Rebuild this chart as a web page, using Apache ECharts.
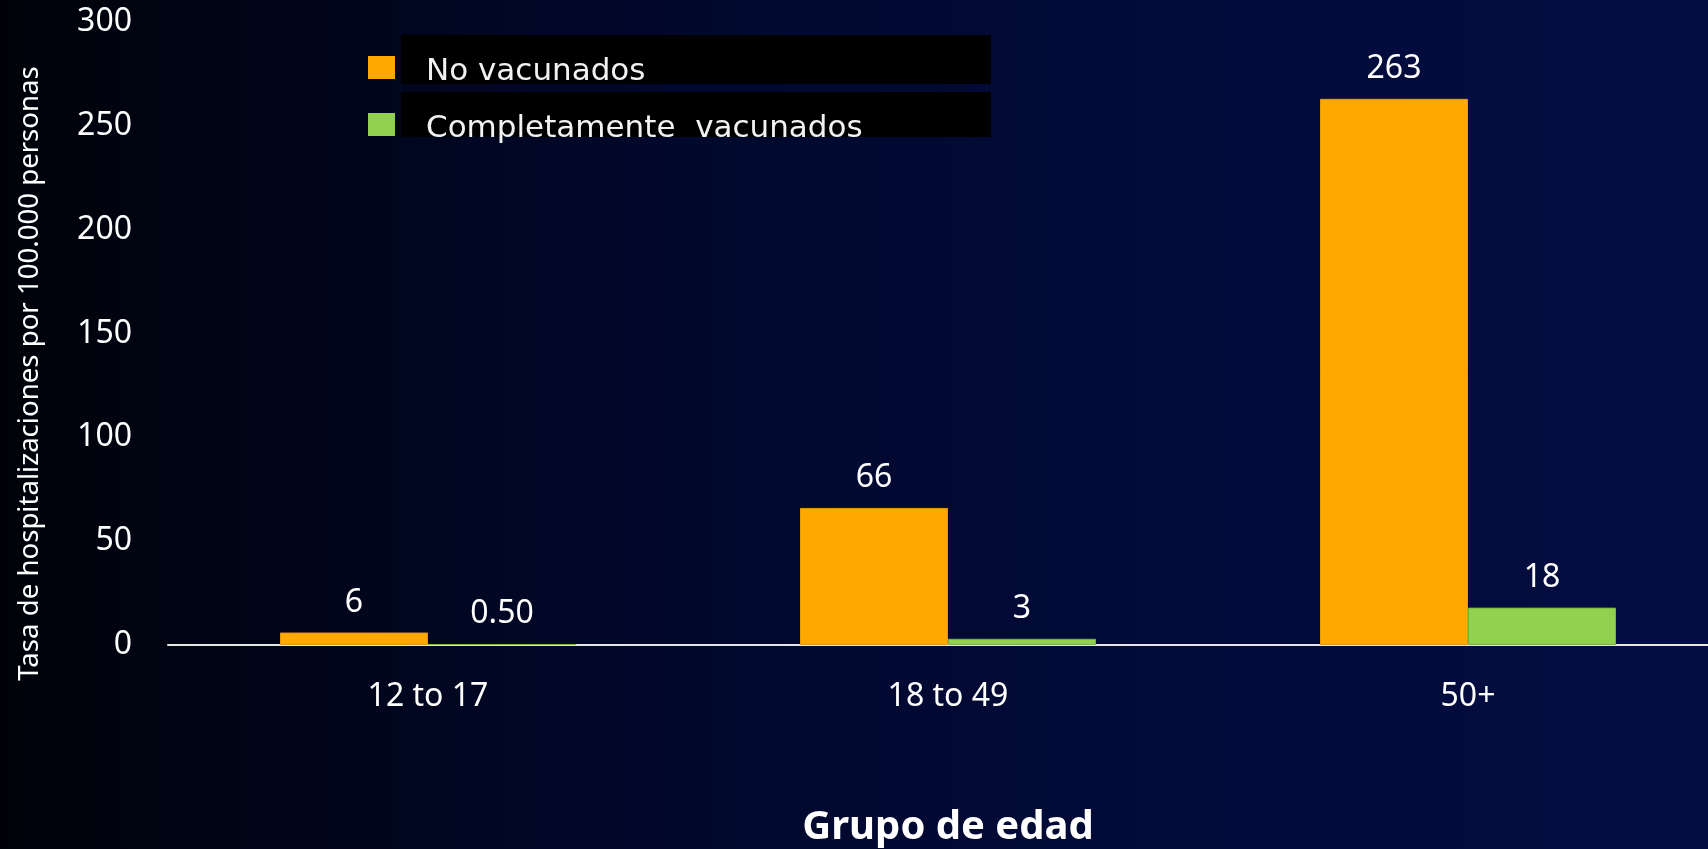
<!DOCTYPE html>
<html>
<head>
<meta charset="utf-8">
<script src="https://cdn.jsdelivr.net/npm/echarts@6/dist/echarts.min.js"></script>
<style>
html,body{margin:0;padding:0;width:1708px;height:849px;overflow:hidden;background:#01030f;}
#c{width:1708px;height:849px;}
</style>
</head>
<body>
<div id="c"></div>
<script>
const categories = ['12 to 17', '18 to 49', '50+'];
const noVacunados = [6, 66, 263];
const completamente = [0.5, 3, 18];
const seriesNames = ['No vacunados', 'Completamente  vacunados'];
const yTicks = { min: 0, max: 300, interval: 50 };

const chart = echarts.init(document.getElementById('c'));
const fmt = p => (p.value < 1 ? p.value.toFixed(2) : String(p.value));
const labelStyle = {
  show: true, position: 'top', distance: 14,
  color: '#ffffff', fontFamily: 'Noto Sans', fontSize: 32, formatter: fmt
};
chart.setOption({
  backgroundColor: {
    type: 'linear', x: 0, y: 0, x2: 1, y2: 0,
    colorStops: [
      { offset: 0, color: '#000209' },
      { offset: 0.15, color: '#000517' },
      { offset: 0.4, color: '#01082d' },
      { offset: 0.7, color: '#020b3a' },
      { offset: 1, color: '#030d42' }
    ]
  },
  graphic: [
    { type: 'rect', z: 0, shape: { x: 401, y: 35, width: 590, height: 49 }, style: { fill: '#000000' } },
    { type: 'rect', z: 0, shape: { x: 401, y: 92, width: 590, height: 45 }, style: { fill: '#000000' } }
  ],
  legend: {
    orient: 'vertical', left: 363, top: 51, z: 10,
    icon: 'path://M0,0L27,0L27,23L0,23Z M0,31L27,31',
    itemWidth: 27, itemHeight: 31, itemGap: 26,
    itemStyle: { borderWidth: 0 },
    textStyle: { color: '#f2f2f2', fontFamily: 'DejaVu Sans', fontSize: 31, padding: [0, 0, 0, 26] },
    data: seriesNames
  },
  grid: { left: 168, top: 22, width: 1560, height: 623, containLabel: false, outerBoundsMode: 'none' },
  xAxis: {
    type: 'category', data: categories,
    axisLine: { show: true, lineStyle: { color: '#e6e6e6', width: 2 } },
    axisTick: { show: false },
    axisLabel: { color: '#ffffff', fontFamily: 'Noto Sans', fontSize: 32, margin: 36 },
    name: 'Grupo de edad', nameLocation: 'middle', nameGap: 163,
    nameTextStyle: { color: '#ffffff', fontFamily: 'Noto Sans', fontWeight: 'bold', fontSize: 40 }
  },
  yAxis: {
    type: 'value', min: yTicks.min, max: yTicks.max, interval: yTicks.interval,
    axisLine: { show: false }, axisTick: { show: false }, splitLine: { show: false },
    axisLabel: { color: '#ffffff', fontFamily: 'Noto Sans', fontSize: 32, margin: 36, padding: [4, 0, 0, 0] },
    name: 'Tasa de hospitalizaciones por 100.000 personas', nameLocation: 'middle', nameGap: 124,
    nameTextStyle: { color: '#ffffff', fontFamily: 'Noto Sans', fontSize: 27.6, padding: [0, 80, 0, 0] }
  },
  series: [
    {
      name: seriesNames[0], type: 'bar', data: noVacunados,
      barWidth: 148, barGap: '0%',
      itemStyle: { color: '#FFA800', borderColor: '#e59a0a', borderWidth: 1 },
      label: labelStyle
    },
    {
      name: seriesNames[1], type: 'bar', data: completamente,
      barWidth: 148,
      itemStyle: { color: '#92D050', borderColor: '#76b040', borderWidth: 1 },
      label: labelStyle
    }
  ]
});
</script>
</body>
</html>
